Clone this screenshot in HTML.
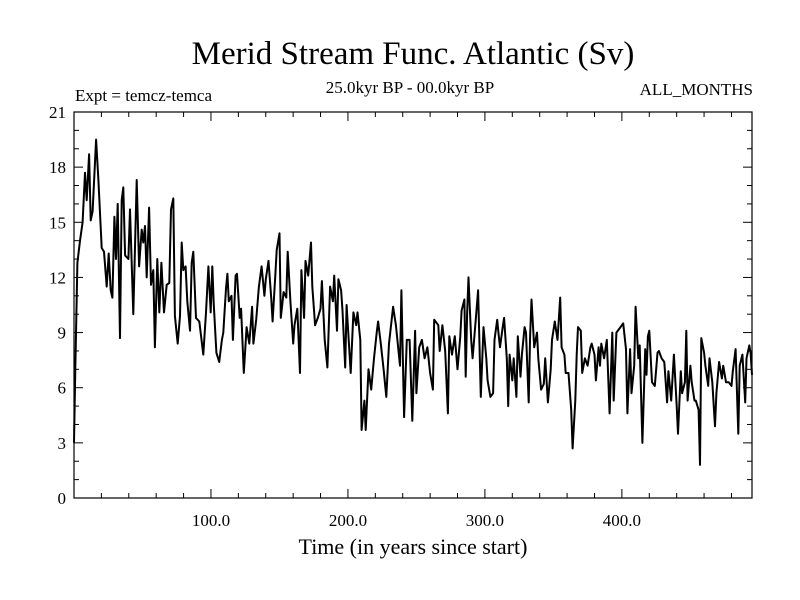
<!DOCTYPE html>
<html><head><meta charset="utf-8">
<style>
body{margin:0;background:#fff;}
svg{display:block;font-family:"Liberation Serif",serif;}
</style></head>
<body>
<svg id="chart" width="800" height="600" viewBox="0 0 800 600">
<rect width="800" height="600" fill="#fff"/>
<text x="413" y="64" font-size="33" text-anchor="middle">Merid Stream Func. Atlantic (Sv)</text>
<text x="75" y="101" font-size="17">Expt = temcz-temca</text>
<text x="410" y="93" font-size="17" text-anchor="middle">25.0kyr BP - 00.0kyr BP</text>
<text x="753" y="95" font-size="17" text-anchor="end">ALL_MONTHS</text>
<text x="413" y="554" font-size="22" text-anchor="middle">Time (in years since start)</text>
<g id="axes"></g>
<g id="series"></g>
</svg>
<script>
const years = [0,1,2.5,4.4,6.3,8,9.3,11,12.2,13.6,16.1,17.8,20.2,21.9,23.9,25.3,26.8,28,29.5,30.7,31.9,33.6,34.8,36,37.3,39.7,40.9,43.3,45.8,47.5,49.4,50.6,51.8,53.1,54.8,56.2,57.9,59.1,60.8,62.3,63.8,65.7,67.7,69.6,70.8,72.5,73.7,75.7,77.4,78.6,79.8,81.5,82.7,84.7,85.9,87.1,89.1,91.5,94.4,96.4,98.1,99.8,
101,102,104,106,108,109,111,112,113,115,116,118,119,121,122,124,126,128,130,131,133,135,137,139,140,142,144,145,147,148,150,151,153,155,156,158,160,161,163,165,166,168,169,171,173,174,176,178,180,181,183,185,187,189,190,192,193,195,
196,198,199,202,204,206,207,209,210,212,213,215,217,219,221,222,224,226,228,230,233,235,238,239,241,243,245,247,249,250,252,254,256,258,260,262,263,266,267,269,271,273,274,276,278,280,282,283,285,286,287,288,290,291,293,295,
297,299,301,302,304,306,307,309,310,311,313,314,316,317,318,320,321,323,324,326,327,329,330,332,333,334,336,338,339,341,343,344,346,348,349,351,353,355,356,358,359,361,363,364,366,367,368,370,371,373,375,377,378,380,381,383,384,385,387,389,391,393,394,396,
399,401,403,404,406,407,409,410,412,413,415,417,418,419,420,422,424,426,427,429,431,433,434,436,438,440,441,443,444,446,447,448,450,451,453,454,456,457,458,460,461,463,464,466,468,469,471,473,474,476,478,480,481,483,485,486,488,490,491,493,494,495];
const values = [3.0,7.3,12.8,14.0,15.0,17.7,16.2,18.7,15.1,15.6,19.5,17.3,13.6,13.4,11.5,13.3,11.3,10.9,15.3,13.0,16.0,8.7,16.2,16.9,13.2,13.0,15.7,10.0,17.3,12.6,14.6,13.9,14.8,12.0,15.8,11.6,12.4,8.2,13.0,10.1,12.8,10.1,11.6,11.7,15.7,16.3,9.9,8.4,9.9,13.9,12.4,12.6,10.7,9.1,12.8,13.4,9.8,9.6,7.8,10.1,12.6,10.1,
12.6,10.6,7.9,7.4,8.6,9.0,11.4,12.2,10.7,11.0,8.6,12.1,12.2,9.8,10.3,6.8,9.3,8.4,10.4,8.4,9.7,11.5,12.6,11.0,11.9,12.9,10.9,9.6,12.1,13.5,14.4,9.8,11.2,10.9,13.4,10.7,8.4,9.4,10.3,6.8,12.4,9.8,12.9,12.1,13.9,11.5,9.4,9.8,10.3,11.8,8.6,7.1,11.5,10.7,12.1,9.1,11.9,11.3,
10.2,7.1,10.5,6.8,10.1,9.4,10.1,8.6,3.7,5.3,3.7,7.0,5.9,7.6,9.0,9.6,8.4,7.0,5.5,8.4,10.4,9.4,7.2,11.3,4.4,8.6,8.6,4.2,9.1,5.7,8.2,8.6,7.6,8.2,6.8,5.9,9.7,9.4,8.0,9.4,8.0,4.6,8.8,7.8,8.8,7.0,8.8,10.2,10.8,6.6,10.0,12.0,8.6,7.6,9.4,11.3,
5.5,9.3,7.6,6.4,5.5,5.7,8.6,9.7,8.9,8.2,9.3,9.8,7.6,5.0,7.8,6.4,7.6,5.5,8.8,6.6,7.8,9.3,9.0,5.2,8.8,10.8,8.2,9.0,7.6,5.9,6.2,7.6,5.2,7.0,8.6,9.6,8.6,10.9,8.2,7.8,6.8,6.8,4.8,2.7,5.3,7.8,9.3,9.1,6.8,7.6,7.2,8.2,8.4,7.8,6.4,8.2,7.2,8.4,7.6,8.6,4.6,9.0,5.3,9.0,
9.3,9.5,8.1,4.6,8.1,5.7,7.2,10.4,7.6,8.3,3.0,8.1,6.7,8.8,9.1,6.3,6.1,7.9,8.0,7.6,7.4,5.2,6.9,5.3,7.8,5.0,3.5,6.9,5.7,6.3,9.1,5.3,7.2,6.3,5.3,5.3,4.8,1.8,8.7,7.9,7.2,6.1,7.6,6.3,3.9,5.7,7.4,6.5,7.2,6.3,6.3,6.1,6.9,8.1,3.5,7.2,7.8,5.2,7.6,8.3,7.9,6.7];
const yTicks = [0,3,6,9,12,15,18,21];
const xTicks = [100,200,300,400];
const xTickLabels = ["100.0","200.0","300.0","400.0"];

const L=74,R=752,T=112,B=498;
const X0=0,X1=495,Y0=0,Y1=21;
function sx(v){return L+(v-X0)/(X1-X0)*(R-L);}
function sy(v){return B-(v-Y0)/(Y1-Y0)*(B-T);}
const NS="http://www.w3.org/2000/svg";
const axes=document.getElementById('axes');
function mk(tag,attrs,parent){const e=document.createElementNS(NS,tag);for(const k in attrs)e.setAttribute(k,attrs[k]);parent.appendChild(e);return e;}

const frame=mk('rect',{x:L,y:T,width:R-L,height:B-T,fill:'none',stroke:'#000','stroke-width':1.2},axes);



// y ticks: minor every 1, labeled every 3
for(let v=0;v<=21;v++){
  const y=sy(v), len=(v%3===0)?9:5;
  const t1=mk('line',{x1:L,y1:y,x2:L+len,y2:y,stroke:'#000','stroke-width':1},axes);
  
  
  const t2=mk('line',{x1:R,y1:y,x2:R-len,y2:y,stroke:'#000','stroke-width':1},axes);
  
  
}
yTicks.forEach(v=>{
  const t=mk('text',{x:L-8,y:sy(v)+6,'font-size':17,'text-anchor':'end'},axes);
  t.textContent=String(v);
  
  
});
// x ticks: minor every 20, major every 100
for(let v=20;v<X1;v+=20){
  const x=sx(v), len=(v%100===0)?9:5;
  const t1=mk('line',{x1:x,y1:B,x2:x,y2:B-len,stroke:'#000','stroke-width':1},axes);
  
  
  const t2=mk('line',{x1:x,y1:T,x2:x,y2:T+len,stroke:'#000','stroke-width':1},axes);
  
  
}
xTicks.forEach((v,i)=>{
  const t=mk('text',{x:sx(v),y:526,'font-size':17,'text-anchor':'middle'},axes);
  t.textContent=xTickLabels[i];
  
  
});
// series
let d='';
years.forEach((yr,i)=>{d+=(i?'L':'M')+sx(yr).toFixed(1)+' '+sy(values[i]).toFixed(1);});
const line=mk('path',{d:d,fill:'none',stroke:'#000','stroke-width':2,'stroke-linejoin':'round'},document.getElementById('series'));


</script>
</body></html>
